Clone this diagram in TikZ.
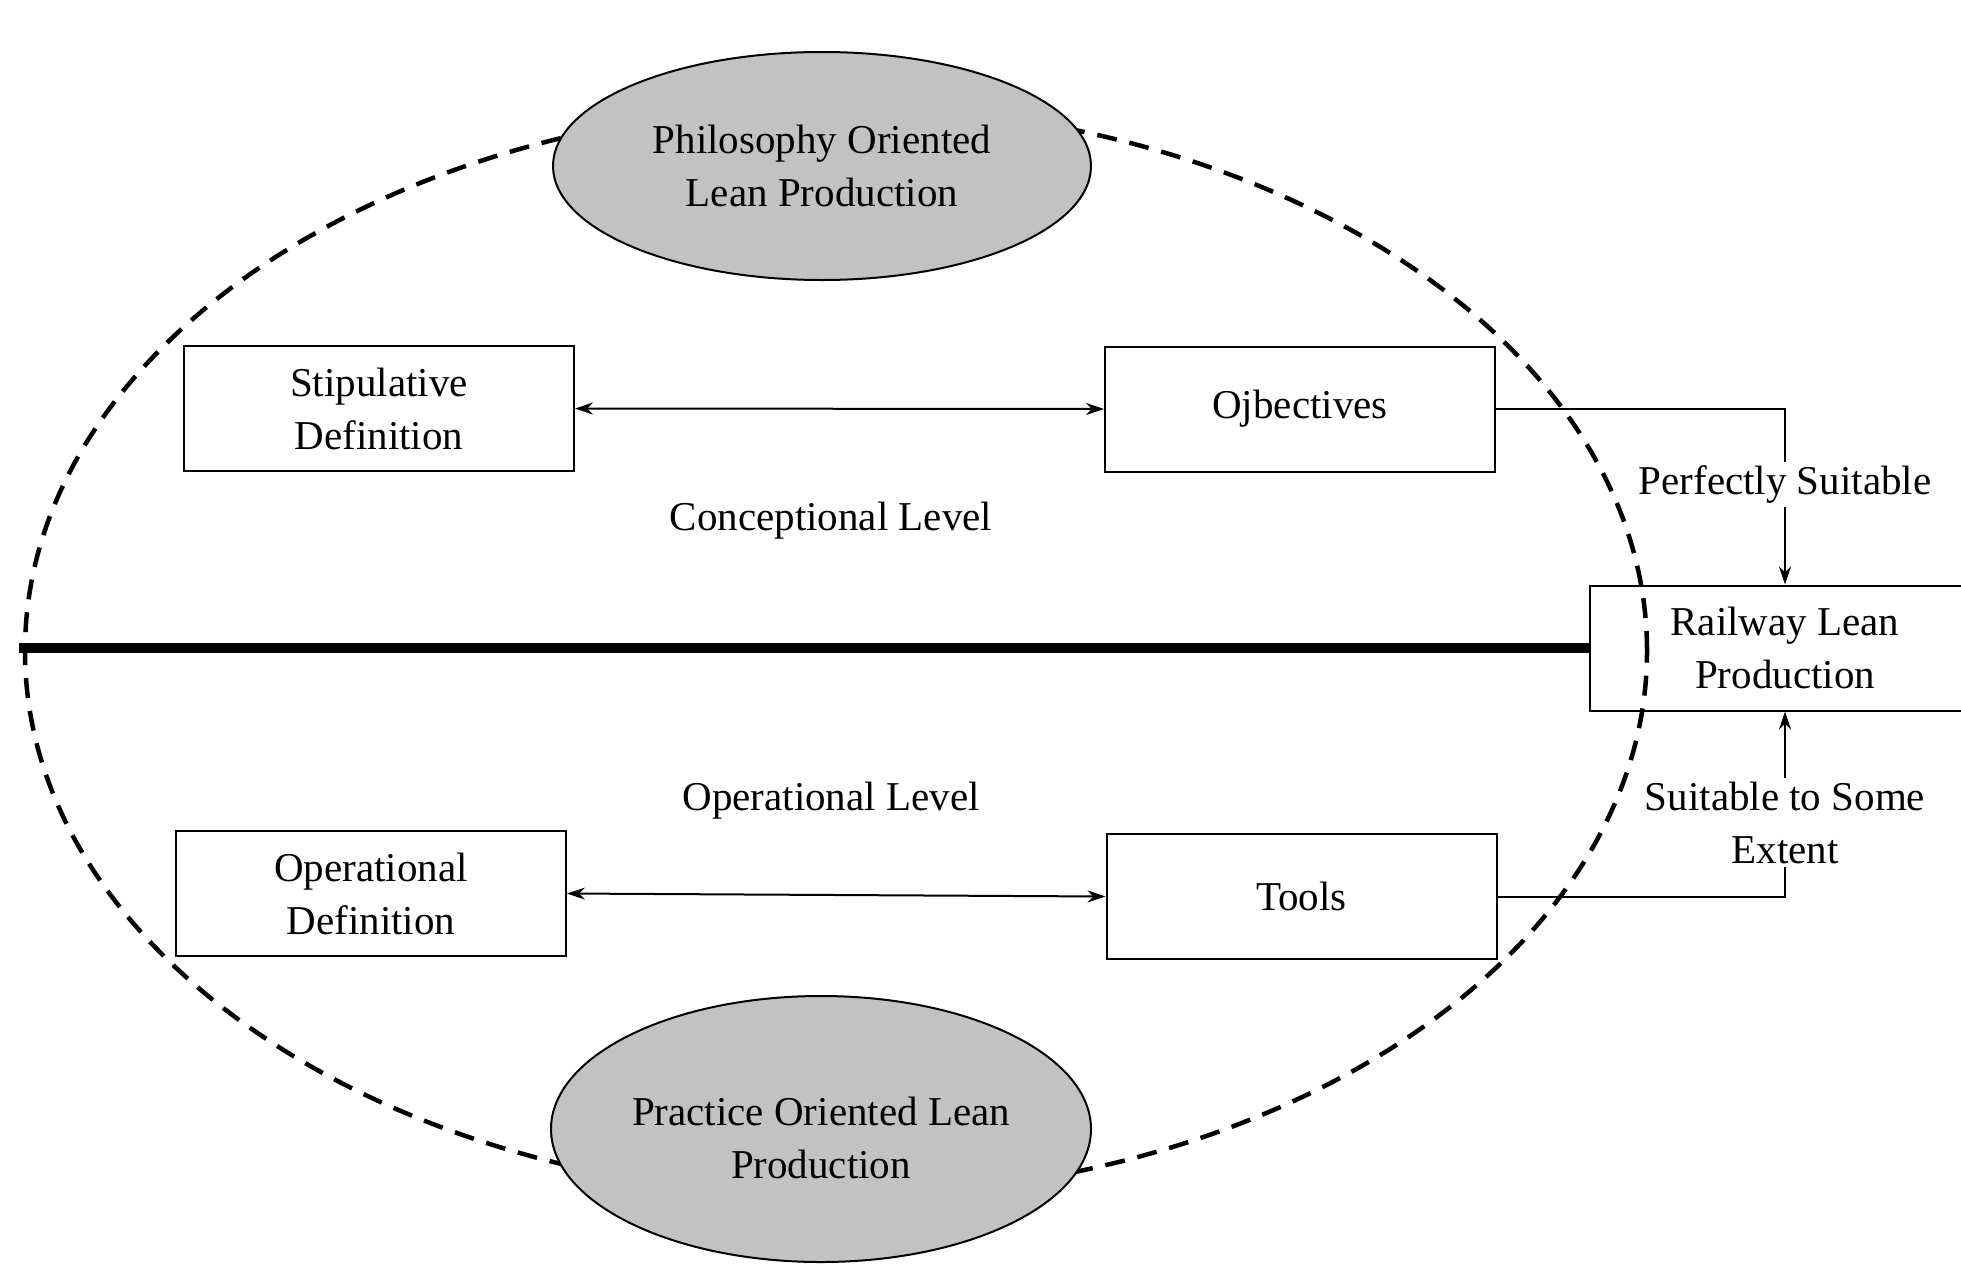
\documentclass[tikz,border=0pt]{standalone}
\usepackage{fontspec}
\setmainfont{Liberation Serif}
\usetikzlibrary{shapes.geometric,arrows.meta}
\begin{document}
\begin{tikzpicture}[x=1pt,y=-1pt,
  every node/.style={font=\fontsize{41}{53}\selectfont, align=center},
  boxnode/.style={draw, line width=2pt, minimum width=390pt, minimum height=125pt, inner sep=0pt},
  grayell/.style={draw, line width=2pt, ellipse, fill=black!24, inner sep=0pt},
  conn/.style={line width=2pt},
  tip/.style={-{Stealth[length=18pt,width=12pt]}},
  lbl/.style={fill=white, inner sep=4pt}
]
\useasboundingbox (0,0) rectangle (1961,1274);
\begin{scope}
\clip (0,0) rectangle (1961,1274);
% outer dashed ellipse
\node[draw, ellipse, dashed, dash pattern=on 20pt off 13pt, line width=4.5pt, minimum width=1622pt, minimum height=1090pt, inner sep=0pt] (outer) at (836,651) {};
% gray ellipses
\node[grayell, minimum width=538pt, minimum height=228pt] (phil) at (822,166) {Philosophy Oriented\\Lean Production};
\node[grayell, minimum width=540pt, minimum height=266pt] (prac) at (821,1129) {};
\node (pract) at (821,1138) {Practice Oriented Lean\\Production};
% boxes
\node[boxnode] (stip) at (379,408.5) {Stipulative\\Definition};
\node[boxnode] (obj) at (1300,409) {Ojbectives};
\node[boxnode] (opdef) at (371,893.5) {Operational\\Definition};
\node[boxnode] (tools) at (1301.5,896.5) {Tools};
\node[boxnode] (rail) at (1785,648) {Railway Lean\\Production};
% level labels
\node (concl) at (831,521) {Conceptional Level};
\node (operl) at (831,801) {Operational Level};
% thick divider
\coordinate (divL) at (19,648);
\draw[line width=10pt] (divL) -- (rail.west);
% double arrows
\draw[conn, {Stealth[length=18pt,width=12pt]}-{Stealth[length=18pt,width=12pt]}] (stip.east) -- (obj.west);
\draw[conn, {Stealth[length=18pt,width=12pt]}-{Stealth[length=18pt,width=12pt]}] (opdef.east) -- (tools.west);
% connectors to railway
\coordinate (c1) at (1785,409);
\coordinate (c2) at (1785,896.5);
\draw[conn, tip] (obj.east) -- (c1) -- node[lbl, pos=0.43] (perf) {Perfectly Suitable} (rail.north);
\draw[conn, tip] (tools.east) -- (c2) -- node[lbl, pos=0.4] (some) {Suitable to Some\\Extent} (rail.south);
\end{scope}
\end{tikzpicture}
\end{document}
